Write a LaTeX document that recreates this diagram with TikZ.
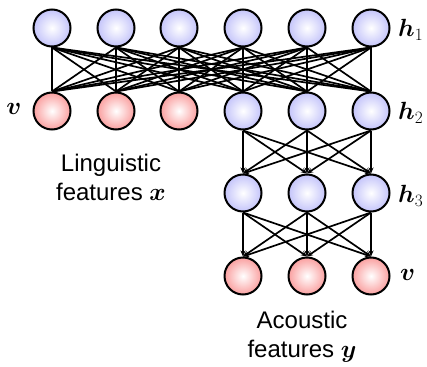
\documentclass[tikz,border=0pt]{standalone}
\usepackage{fontspec}
\setmainfont{Liberation Sans}
\usepackage{amsmath,bm}
\usetikzlibrary{arrows.meta}
\definecolor{hidfill}{RGB}{196,196,250}
\definecolor{visfill}{RGB}{250,160,160}
\tikzset{
  unit/.style={circle, draw=black, line width=2pt, minimum size=37pt, inner sep=0pt},
  hid/.style={unit, inner color=white, outer color=hidfill},
  vis/.style={unit, inner color=white, outer color=visfill},
  link/.style={line width=1.7pt},
  flow/.style={line width=1.7pt, -{Stealth[length=6pt,width=5pt]}},
  lbl/.style={font=\fontsize{24}{29}\selectfont, inner sep=0pt},
  captext/.style={font=\fontsize{24}{29}\selectfont, align=center, inner sep=0pt}
}
\begin{document}
\begin{tikzpicture}[x=1pt, y=-1pt]
\useasboundingbox (0,0) rectangle (427,366);
% top hidden layer h1
\foreach \i/\x in {1/52,2/116,3/179,4/243,5/307,6/371}
  \node[hid] (a\i) at (\x,28) {};
% second row: visible inputs and h2
\foreach \i/\x in {1/52,2/116,3/179}
  \node[vis] (b\i) at (\x,111) {};
\foreach \i/\x in {4/243,5/307,6/371}
  \node[hid] (b\i) at (\x,111) {};
% h3
\foreach \i/\x in {1/243,2/307,3/371}
  \node[hid] (c\i) at (\x,193) {};
% visible outputs
\foreach \i/\x in {1/243,2/307,3/371}
  \node[vis] (d\i) at (\x,276) {};
% undirected connections h1 -- second row
\foreach \i in {1,...,6}
  \foreach \j in {1,...,6}
    \draw[link] (a\i.south) -- (b\j.north);
% directed connections h2 -> h3 -> outputs
\foreach \i in {4,5,6}
  \foreach \j in {1,2,3}
    \draw[flow] (b\i.south) -- (c\j.north);
\foreach \i in {1,2,3}
  \foreach \j in {1,2,3}
    \draw[flow] (c\i.south) -- (d\j.north);
% layer labels
\node[lbl, anchor=west] (lh1) at (398,30) {$\bm{h}_1$};
\node[lbl, anchor=west] (lh2) at (398,113) {$\bm{h}_2$};
\node[lbl, anchor=west] (lh3) at (398,196) {$\bm{h}_3$};
\node[lbl] (lvin) at (14,109) {$\bm{v}$};
\node[lbl, anchor=west] (lvout) at (400,275) {$\bm{v}$};
% feature captions
\node[captext] (ling) at (111,177) {Linguistic\\features $\bm{x}$};
\node[captext] (acou) at (302,337) {Acoustic\\features $\bm{y}$};
\end{tikzpicture}
\end{document}
